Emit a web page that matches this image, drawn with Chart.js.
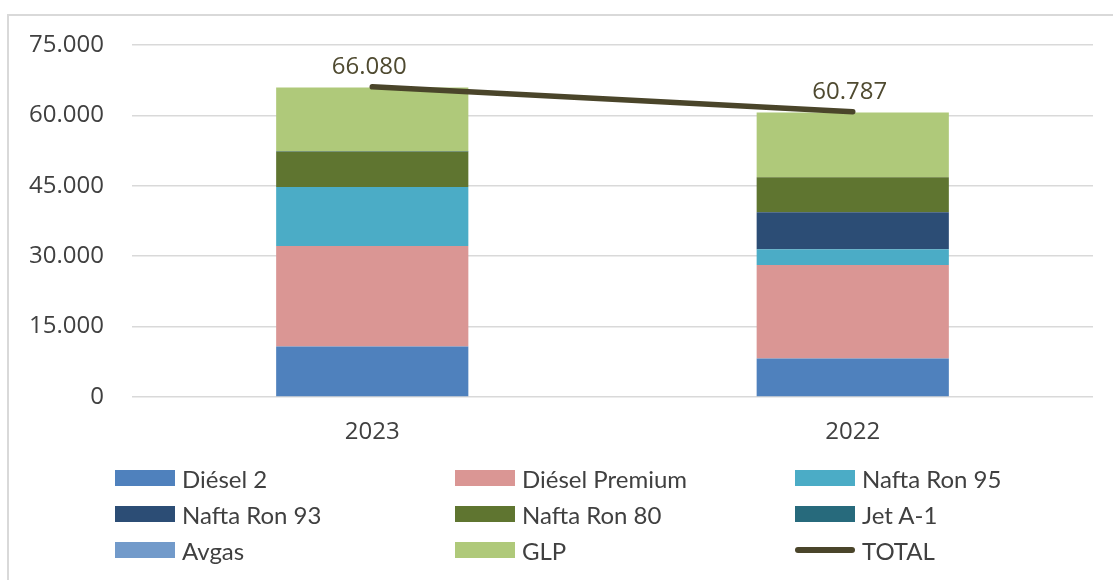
<!DOCTYPE html>
<html>
<head>
<meta charset="utf-8">
<script src="https://cdn.jsdelivr.net/npm/chart.js@4.4.1/dist/chart.umd.min.js"></script>
<style>
  html, body { margin: 0; padding: 0; background: #fff; }
  #wrap { position: relative; width: 1113px; height: 580px; overflow: hidden; }
  #frame { position: absolute; left: 7px; top: 14px; right: -4px; bottom: -4px;
           border-top: 2px solid #d9d9d9; border-left: 2px solid #d9d9d9; }
  #chart { position: absolute; left: 0; top: 0; }
  #legend { position: absolute; left: 115px; top: 460px; width: 1000px;
            display: grid; grid-template-columns: 340px 340px 300px; grid-auto-rows: 36px;
            font-family: Lato, 'Liberation Sans', sans-serif; font-size: 24px; color: #404040; }
  .item { display: flex; align-items: center; white-space: nowrap; }
  .sw { width: 60px; height: 16px; margin-right: 7px; flex: none; }
  .ln { width: 60px; height: 6px; border-radius: 3px; margin-right: 7px; flex: none; }
</style>
</head>
<body>
<div id="wrap">
  <div id="frame"></div>
  <canvas id="chart" width="1113" height="580"></canvas>
  <div id="legend"></div>
</div>
<script>
// data
const categories = ['2023', '2022'];
const diesel2 = [10750, 8200];
const dieselPremium = [21400, 19900];
const naftaRon95 = [12600, 3400];
const naftaRon93 = [0, 7860];
const naftaRon80 = [7580, 7440];
const jetA1 = [100, 0];
const avgas = [0, 0];
const glp = [13530, 13800];
const total = [66080, 60787];
const yTicks = [0, 15000, 30000, 45000, 60000, 75000];

const fmt = v => String(v).replace(/\B(?=(\d{3})+(?!\d))/g, '.');

const barSeries = [
  { label: 'Diésel 2', data: diesel2, color: '#4F81BD' },
  { label: 'Diésel Premium', data: dieselPremium, color: '#DA9694' },
  { label: 'Nafta Ron 95', data: naftaRon95, color: '#4BACC6' },
  { label: 'Nafta Ron 93', data: naftaRon93, color: '#2C4D75' },
  { label: 'Nafta Ron 80', data: naftaRon80, color: '#5F7530' },
  { label: 'Jet A-1', data: jetA1, color: '#276A7C' },
  { label: 'Avgas', data: avgas, color: '#729ACA' },
  { label: 'GLP', data: glp, color: '#AFC97A' },
];
const totalColor = '#4A452A';

const datasets = barSeries.map(s => ({
  type: 'bar',
  label: s.label,
  data: s.data,
  backgroundColor: s.color,
  borderWidth: 0,
  stack: 'fuel',
  barPercentage: 0.4,
  categoryPercentage: 1.0,
  order: 2,
}));
datasets.push({
  type: 'line',
  label: 'TOTAL',
  data: total,
  borderColor: totalColor,
  backgroundColor: totalColor,
  borderWidth: 5.5,
  borderCapStyle: 'round',
  pointRadius: 0,
  stack: 'total',
  order: 1,
});

// value labels above the TOTAL line
const totalLabels = {
  id: 'totalLabels',
  afterDatasetsDraw(chart) {
    const idx = chart.data.datasets.length - 1;
    const meta = chart.getDatasetMeta(idx);
    const ctx = chart.ctx;
    ctx.save();
    ctx.font = '24px "Open Sans"';
    ctx.fillStyle = '#4F4A30';
    ctx.textAlign = 'center';
    ctx.textBaseline = 'middle';
    meta.data.forEach((pt, i) => {
      ctx.fillText(fmt(total[i]), pt.x - 3, pt.y - 20);
    });
    ctx.restore();
  }
};

new Chart(document.getElementById('chart'), {
  data: { labels: categories, datasets },
  options: {
    responsive: false,
    animation: false,
    layout: { padding: { left: 0, right: 20, top: 45, bottom: 133 } },
    plugins: {
      legend: { display: false },
      tooltip: { enabled: false },
    },
    scales: {
      x: {
        stacked: true,
        grid: { display: false },
        border: { display: false },
        ticks: { color: '#404040', font: { family: 'Open Sans', size: 24 }, padding: 13 },
        afterFit(s) { s.height = 50; },
      },
      y: {
        stacked: true,
        min: 0,
        max: 75000,
        afterBuildTicks(s) { s.ticks = yTicks.map(v => ({ value: v })); },
        grid: { color: '#d9d9d9', lineWidth: 1.5, drawTicks: false },
        border: { display: false },
        ticks: {
          color: '#404040',
          font: { family: 'Open Sans', size: 24 },
          padding: 28,
          callback: v => fmt(v),
        },
        afterFit(s) { s.width = 132; },
      },
    },
  },
  plugins: [totalLabels],
});

// legend in three columns
const legend = document.getElementById('legend');
barSeries.concat([{ label: 'TOTAL', line: true }]).forEach(s => {
  const item = document.createElement('div');
  item.className = 'item';
  const mark = document.createElement('span');
  if (s.line) { mark.className = 'ln'; mark.style.background = totalColor; }
  else { mark.className = 'sw'; mark.style.background = s.color; }
  item.appendChild(mark);
  item.appendChild(document.createTextNode(s.label));
  legend.appendChild(item);
});
</script>
</body>
</html>
